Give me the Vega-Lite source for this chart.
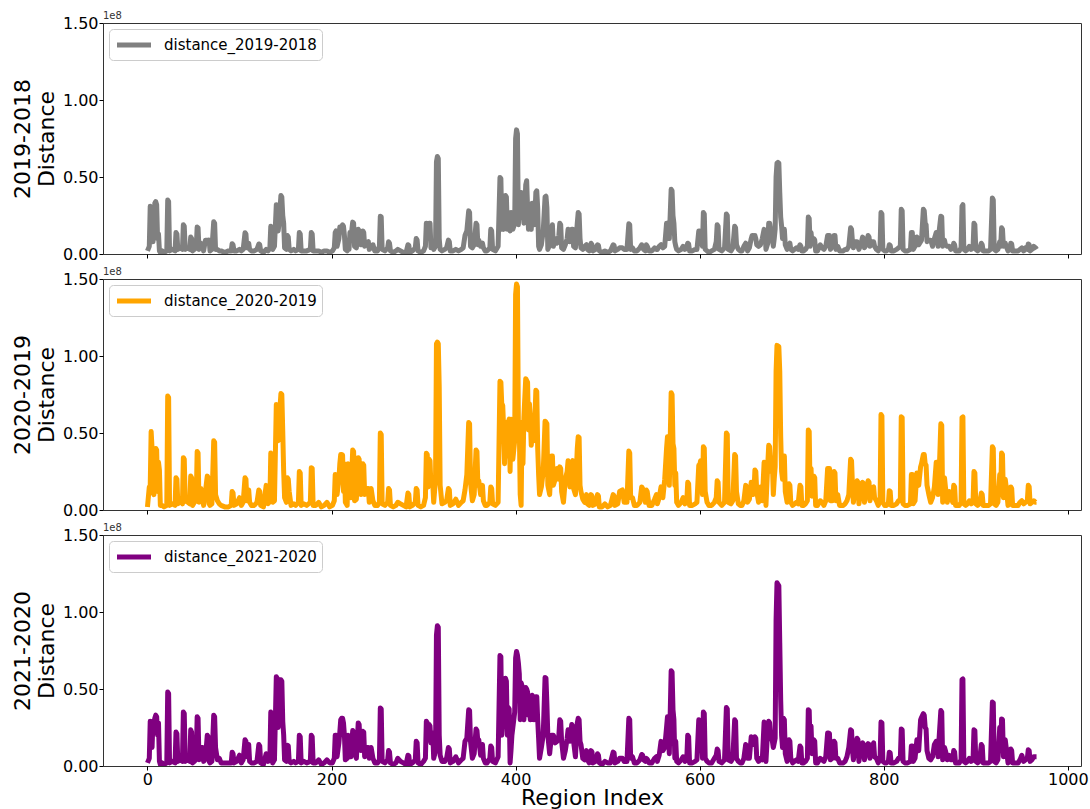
{
"$schema": "https://vega.github.io/schema/vega-lite/v6.json",
"padding": {"left": 10, "top": 10, "right": 5, "bottom": 0},
"background": "white",
"config": {
  "font": "DejaVu Sans",
  "view": {"stroke": "#333", "strokeWidth": 1},
  "axis": {"grid": false, "domain": false, "tickColor": "#000", "tickSize": 4, "labelFontSize": 16, "labelColor": "#000", "titleFontSize": 22, "titleFontWeight": "normal", "titleColor": "#000", "labelPadding": 1},
  "legend": {"orient": "top-left", "offset": 6, "padding": 5, "strokeColor": "#cccccc", "fillColor": "white", "cornerRadius": 4, "symbolType": "M-2,0L2,0", "symbolSize": 289, "symbolOffset": 9, "symbolStrokeWidth": 5, "labelFontSize": 15, "labelColor": "#000", "title": null, "labelOffset": 19, "labelLimit": 0}
},
"data": {"values": [
{"region":0,"a":0.02,"b":0.02,"c":0.02},{"region":2,"a":0.05,"b":0.15,"c":0.05},{"region":3,"a":0.31,"b":0.15,"c":0.29},{"region":4,"a":0.30,"b":0.51,"c":0.27},{"region":5,"a":0.10,"b":0.40,"c":0.12},{"region":6,"a":0.08,"b":0.11,"c":0.29},{"region":7,"a":0.15,"b":0.10,"c":0.28},{"region":8,"a":0.33,"b":0.30,"c":0.31},{"region":9,"a":0.34,"b":0.40,"c":0.33},{"region":10,"a":0.32,"b":0.39,"c":0.32},{"region":11,"a":0.10,"b":0.12,"c":0.20},{"region":12,"a":0.13,"b":0.31,"c":0.28},{"region":13,"a":0.02,"b":0.26,"c":0.03},{"region":14,"a":0.01,"b":0.03,"c":0.01},{"region":16,"a":0.02,"b":0.03,"c":0.02},{"region":18,"a":0.01,"b":0.02,"c":0.01},{"region":21,"a":0.02,"b":0.03,"c":0.02},{"region":22,"a":0.35,"b":0.74,"c":0.48},{"region":23,"a":0.34,"b":0.73,"c":0.47},{"region":24,"a":0.02,"b":0.03,"c":0.02},{"region":27,"a":0.03,"b":0.04,"c":0.03},{"region":30,"a":0.02,"b":0.03,"c":0.02},{"region":31,"a":0.14,"b":0.21,"c":0.22},{"region":32,"a":0.13,"b":0.20,"c":0.21},{"region":33,"a":0.03,"b":0.04,"c":0.03},{"region":36,"a":0.04,"b":0.06,"c":0.04},{"region":38,"a":0.03,"b":0.04,"c":0.03},{"region":39,"a":0.19,"b":0.34,"c":0.35},{"region":40,"a":0.18,"b":0.33,"c":0.34},{"region":41,"a":0.03,"b":0.06,"c":0.03},{"region":44,"a":0.04,"b":0.05,"c":0.04},{"region":46,"a":0.03,"b":0.04,"c":0.03},{"region":47,"a":0.11,"b":0.22,"c":0.235},{"region":48,"a":0.10,"b":0.21,"c":0.22},{"region":49,"a":0.02,"b":0.03,"c":0.02},{"region":51,"a":0.03,"b":0.05,"c":0.03},{"region":53,"a":0.04,"b":0.06,"c":0.05},{"region":54,"a":0.175,"b":0.38,"c":0.32},{"region":55,"a":0.17,"b":0.37,"c":0.31},{"region":56,"a":0.03,"b":0.05,"c":0.04},{"region":58,"a":0.07,"b":0.14,"c":0.12},{"region":60,"a":0.05,"b":0.08,"c":0.12},{"region":61,"a":0.02,"b":0.03,"c":0.03},{"region":63,"a":0.09,"b":0.12,"c":0.05},{"region":65,"a":0.09,"b":0.22,"c":0.20},{"region":66,"a":0.08,"b":0.21,"c":0.19},{"region":67,"a":0.09,"b":0.04,"c":0.03},{"region":68,"a":0.02,"b":0.03,"c":0.02},{"region":70,"a":0.03,"b":0.04,"c":0.03},{"region":72,"a":0.21,"b":0.45,"c":0.33},{"region":73,"a":0.20,"b":0.44,"c":0.32},{"region":74,"a":0.03,"b":0.10,"c":0.12},{"region":76,"a":0.03,"b":0.06,"c":0.04},{"region":78,"a":0.02,"b":0.04,"c":0.05},{"region":80,"a":0.02,"b":0.03,"c":0.02},{"region":84,"a":0.01,"b":0.02,"c":0.02},{"region":88,"a":0.02,"b":0.02,"c":0.02},{"region":91,"a":0.02,"b":0.03,"c":0.02},{"region":92,"a":0.067,"b":0.12,"c":0.09},{"region":93,"a":0.06,"b":0.11,"c":0.08},{"region":94,"a":0.02,"b":0.03,"c":0.02},{"region":97,"a":0.02,"b":0.04,"c":0.03},{"region":100,"a":0.03,"b":0.08,"c":0.07},{"region":102,"a":0.02,"b":0.03,"c":0.02},{"region":104,"a":0.03,"b":0.05,"c":0.04},{"region":106,"a":0.138,"b":0.21,"c":0.17},{"region":107,"a":0.13,"b":0.20,"c":0.16},{"region":108,"a":0.04,"b":0.06,"c":0.06},{"region":110,"a":0.07,"b":0.13,"c":0.14},{"region":111,"a":0.03,"b":0.05,"c":0.03},{"region":113,"a":0.02,"b":0.03,"c":0.02},{"region":116,"a":0.02,"b":0.03,"c":0.02},{"region":119,"a":0.03,"b":0.05,"c":0.03},{"region":121,"a":0.065,"b":0.13,"c":0.14},{"region":122,"a":0.06,"b":0.12,"c":0.13},{"region":123,"a":0.02,"b":0.03,"c":0.02},{"region":126,"a":0.01,"b":0.02,"c":0.01},{"region":129,"a":0.03,"b":0.16,"c":0.08},{"region":131,"a":0.02,"b":0.04,"c":0.03},{"region":133,"a":0.04,"b":0.06,"c":0.05},{"region":134,"a":0.18,"b":0.37,"c":0.35},{"region":135,"a":0.17,"b":0.36,"c":0.34},{"region":136,"a":0.03,"b":0.05,"c":0.02},{"region":138,"a":0.05,"b":0.06,"c":0.04},{"region":140,"a":0.32,"b":0.685,"c":0.58},{"region":141,"a":0.31,"b":0.68,"c":0.57},{"region":142,"a":0.15,"b":0.45,"c":0.25},{"region":143,"a":0.20,"b":0.57,"c":0.56},{"region":145,"a":0.38,"b":0.756,"c":0.56},{"region":146,"a":0.37,"b":0.75,"c":0.55},{"region":147,"a":0.25,"b":0.51,"c":0.29},{"region":148,"a":0.20,"b":0.25,"c":0.20},{"region":149,"a":0.04,"b":0.08,"c":0.04},{"region":151,"a":0.03,"b":0.05,"c":0.03},{"region":152,"a":0.12,"b":0.21,"c":0.135},{"region":153,"a":0.11,"b":0.20,"c":0.13},{"region":154,"a":0.03,"b":0.12,"c":0.03},{"region":156,"a":0.02,"b":0.03,"c":0.02},{"region":159,"a":0.03,"b":0.04,"c":0.03},{"region":161,"a":0.02,"b":0.03,"c":0.02},{"region":164,"a":0.03,"b":0.05,"c":0.03},{"region":165,"a":0.14,"b":0.25,"c":0.20},{"region":166,"a":0.13,"b":0.24,"c":0.19},{"region":167,"a":0.02,"b":0.03,"c":0.02},{"region":170,"a":0.02,"b":0.04,"c":0.03},{"region":173,"a":0.02,"b":0.03,"c":0.02},{"region":177,"a":0.03,"b":0.05,"c":0.03},{"region":178,"a":0.14,"b":0.275,"c":0.20},{"region":179,"a":0.13,"b":0.27,"c":0.19},{"region":180,"a":0.02,"b":0.03,"c":0.02},{"region":183,"a":0.02,"b":0.03,"c":0.02},{"region":186,"a":0.02,"b":0.05,"c":0.04},{"region":189,"a":0.01,"b":0.02,"c":0.01},{"region":192,"a":0.02,"b":0.03,"c":0.02},{"region":195,"a":0.02,"b":0.05,"c":0.04},{"region":198,"a":0.01,"b":0.02,"c":0.02},{"region":201,"a":0.02,"b":0.03,"c":0.02},{"region":203,"a":0.04,"b":0.06,"c":0.05},{"region":204,"a":0.14,"b":0.23,"c":0.20},{"region":205,"a":0.15,"b":0.22,"c":0.20},{"region":206,"a":0.05,"b":0.10,"c":0.06},{"region":208,"a":0.10,"b":0.20,"c":0.15},{"region":209,"a":0.175,"b":0.30,"c":0.22},{"region":210,"a":0.17,"b":0.36,"c":0.30},{"region":211,"a":0.175,"b":0.36,"c":0.31},{"region":212,"a":0.19,"b":0.357,"c":0.31},{"region":213,"a":0.18,"b":0.12,"c":0.28},{"region":214,"a":0.12,"b":0.30,"c":0.20},{"region":215,"a":0.03,"b":0.05,"c":0.04},{"region":217,"a":0.02,"b":0.03,"c":0.05},{"region":218,"a":0.05,"b":0.30,"c":0.20},{"region":219,"a":0.03,"b":0.10,"c":0.06},{"region":220,"a":0.14,"b":0.15,"c":0.15},{"region":221,"a":0.10,"b":0.08,"c":0.06},{"region":223,"a":0.207,"b":0.39,"c":0.23},{"region":224,"a":0.20,"b":0.38,"c":0.22},{"region":225,"a":0.05,"b":0.06,"c":0.08},{"region":227,"a":0.04,"b":0.07,"c":0.05},{"region":229,"a":0.16,"b":0.34,"c":0.28},{"region":230,"a":0.15,"b":0.33,"c":0.27},{"region":231,"a":0.08,"b":0.14,"c":0.14},{"region":232,"a":0.06,"b":0.10,"c":0.10},{"region":234,"a":0.15,"b":0.30,"c":0.225},{"region":235,"a":0.14,"b":0.29,"c":0.22},{"region":236,"a":0.05,"b":0.10,"c":0.06},{"region":238,"a":0.07,"b":0.14,"c":0.12},{"region":240,"a":0.08,"b":0.14,"c":0.12},{"region":241,"a":0.03,"b":0.05,"c":0.05},{"region":243,"a":0.04,"b":0.14,"c":0.12},{"region":245,"a":0.06,"b":0.06,"c":0.05},{"region":247,"a":0.02,"b":0.03,"c":0.02},{"region":250,"a":0.02,"b":0.03,"c":0.02},{"region":252,"a":0.05,"b":0.05,"c":0.04},{"region":253,"a":0.245,"b":0.50,"c":0.376},{"region":254,"a":0.24,"b":0.49,"c":0.37},{"region":255,"a":0.03,"b":0.04,"c":0.03},{"region":258,"a":0.02,"b":0.03,"c":0.02},{"region":261,"a":0.04,"b":0.05,"c":0.04},{"region":262,"a":0.08,"b":0.14,"c":0.10},{"region":263,"a":0.07,"b":0.13,"c":0.09},{"region":264,"a":0.02,"b":0.03,"c":0.02},{"region":267,"a":0.01,"b":0.02,"c":0.01},{"region":270,"a":0.02,"b":0.03,"c":0.02},{"region":272,"a":0.03,"b":0.05,"c":0.05},{"region":275,"a":0.02,"b":0.04,"c":0.03},{"region":278,"a":0.01,"b":0.03,"c":0.02},{"region":281,"a":0.01,"b":0.02,"c":0.01},{"region":283,"a":0.06,"b":0.11,"c":0.07},{"region":284,"a":0.055,"b":0.10,"c":0.065},{"region":285,"a":0.01,"b":0.02,"c":0.01},{"region":288,"a":0.02,"b":0.03,"c":0.02},{"region":291,"a":0.04,"b":0.05,"c":0.04},{"region":292,"a":0.10,"b":0.14,"c":0.16},{"region":293,"a":0.09,"b":0.13,"c":0.15},{"region":294,"a":0.02,"b":0.03,"c":0.02},{"region":297,"a":0.01,"b":0.02,"c":0.01},{"region":300,"a":0.02,"b":0.03,"c":0.03},{"region":302,"a":0.05,"b":0.08,"c":0.05},{"region":303,"a":0.20,"b":0.368,"c":0.29},{"region":304,"a":0.19,"b":0.36,"c":0.28},{"region":305,"a":0.10,"b":0.15,"c":0.20},{"region":306,"a":0.20,"b":0.33,"c":0.27},{"region":307,"a":0.20,"b":0.32,"c":0.26},{"region":308,"a":0.04,"b":0.16,"c":0.15},{"region":310,"a":0.05,"b":0.17,"c":0.215},{"region":311,"a":0.03,"b":0.05,"c":0.05},{"region":313,"a":0.05,"b":0.20,"c":0.10},{"region":314,"a":0.60,"b":1.08,"c":0.85},{"region":315,"a":0.633,"b":1.09,"c":0.91},{"region":316,"a":0.62,"b":1.08,"c":0.90},{"region":317,"a":0.10,"b":0.80,"c":0.20},{"region":318,"a":0.03,"b":0.16,"c":0.07},{"region":320,"a":0.02,"b":0.04,"c":0.03},{"region":323,"a":0.03,"b":0.05,"c":0.03},{"region":325,"a":0.04,"b":0.06,"c":0.05},{"region":327,"a":0.09,"b":0.14,"c":0.12},{"region":328,"a":0.08,"b":0.13,"c":0.11},{"region":329,"a":0.02,"b":0.03,"c":0.02},{"region":332,"a":0.02,"b":0.04,"c":0.03},{"region":335,"a":0.03,"b":0.07,"c":0.06},{"region":338,"a":0.02,"b":0.03,"c":0.02},{"region":341,"a":0.03,"b":0.05,"c":0.04},{"region":343,"a":0.04,"b":0.06,"c":0.05},{"region":345,"a":0.12,"b":0.13,"c":0.16},{"region":347,"a":0.15,"b":0.23,"c":0.18},{"region":349,"a":0.28,"b":0.568,"c":0.365},{"region":350,"a":0.27,"b":0.56,"c":0.36},{"region":351,"a":0.05,"b":0.18,"c":0.16},{"region":353,"a":0.04,"b":0.06,"c":0.05},{"region":355,"a":0.06,"b":0.10,"c":0.08},{"region":357,"a":0.20,"b":0.39,"c":0.24},{"region":358,"a":0.19,"b":0.38,"c":0.23},{"region":359,"a":0.06,"b":0.16,"c":0.16},{"region":360,"a":0.09,"b":0.19,"c":0.17},{"region":362,"a":0.05,"b":0.10,"c":0.07},{"region":364,"a":0.07,"b":0.16,"c":0.14},{"region":365,"a":0.04,"b":0.06,"c":0.05},{"region":367,"a":0.02,"b":0.03,"c":0.02},{"region":369,"a":0.02,"b":0.03,"c":0.02},{"region":372,"a":0.04,"b":0.05,"c":0.05},{"region":373,"a":0.16,"b":0.15,"c":0.13},{"region":374,"a":0.15,"b":0.14,"c":0.12},{"region":375,"a":0.03,"b":0.04,"c":0.03},{"region":378,"a":0.02,"b":0.03,"c":0.02},{"region":381,"a":0.05,"b":0.05,"c":0.06},{"region":383,"a":0.497,"b":0.836,"c":0.717},{"region":384,"a":0.49,"b":0.83,"c":0.71},{"region":385,"a":0.16,"b":0.68,"c":0.20},{"region":386,"a":0.20,"b":0.68,"c":0.30},{"region":387,"a":0.16,"b":0.53,"c":0.46},{"region":388,"a":0.25,"b":0.30,"c":0.40},{"region":389,"a":0.38,"b":0.57,"c":0.57},{"region":390,"a":0.37,"b":0.56,"c":0.55},{"region":391,"a":0.16,"b":0.35,"c":0.20},{"region":392,"a":0.27,"b":0.57,"c":0.38},{"region":393,"a":0.26,"b":0.59,"c":0.37},{"region":394,"a":0.15,"b":0.25,"c":0.02},{"region":395,"a":0.27,"b":0.59,"c":0.10},{"region":396,"a":0.26,"b":0.58,"c":0.20},{"region":397,"a":0.16,"b":0.33,"c":0.25},{"region":399,"a":0.20,"b":0.45,"c":0.35},{"region":400,"a":0.75,"b":1.40,"c":0.70},{"region":401,"a":0.806,"b":1.468,"c":0.744},{"region":402,"a":0.78,"b":1.45,"c":0.72},{"region":403,"a":0.19,"b":0.57,"c":0.67},{"region":404,"a":0.30,"b":0.55,"c":0.60},{"region":405,"a":0.26,"b":0.10,"c":0.30},{"region":406,"a":0.40,"b":0.03,"c":0.54},{"region":407,"a":0.39,"b":0.57,"c":0.52},{"region":408,"a":0.32,"b":0.30,"c":0.33},{"region":409,"a":0.20,"b":0.60,"c":0.30},{"region":410,"a":0.30,"b":0.73,"c":0.40},{"region":411,"a":0.45,"b":0.853,"c":0.51},{"region":412,"a":0.476,"b":0.84,"c":0.50},{"region":413,"a":0.30,"b":0.83,"c":0.48},{"region":414,"a":0.16,"b":0.52,"c":0.33},{"region":415,"a":0.25,"b":0.69,"c":0.40},{"region":416,"a":0.20,"b":0.60,"c":0.30},{"region":417,"a":0.16,"b":0.42,"c":0.43},{"region":418,"a":0.33,"b":0.50,"c":0.46},{"region":419,"a":0.32,"b":0.60,"c":0.45},{"region":420,"a":0.19,"b":0.45,"c":0.30},{"region":421,"a":0.25,"b":0.60,"c":0.44},{"region":422,"a":0.40,"b":0.778,"c":0.45},{"region":423,"a":0.41,"b":0.77,"c":0.45},{"region":424,"a":0.30,"b":0.40,"c":0.30},{"region":425,"a":0.05,"b":0.23,"c":0.18},{"region":426,"a":0.03,"b":0.10,"c":0.05},{"region":428,"a":0.06,"b":0.15,"c":0.12},{"region":430,"a":0.15,"b":0.25,"c":0.20},{"region":432,"a":0.37,"b":0.577,"c":0.575},{"region":433,"a":0.375,"b":0.57,"c":0.57},{"region":434,"a":0.30,"b":0.56,"c":0.40},{"region":435,"a":0.03,"b":0.16,"c":0.20},{"region":437,"a":0.06,"b":0.10,"c":0.08},{"region":439,"a":0.15,"b":0.35,"c":0.20},{"region":440,"a":0.19,"b":0.35,"c":0.20},{"region":441,"a":0.05,"b":0.16,"c":0.20},{"region":443,"a":0.10,"b":0.20,"c":0.15},{"region":445,"a":0.07,"b":0.27,"c":0.16},{"region":447,"a":0.12,"b":0.20,"c":0.20},{"region":448,"a":0.20,"b":0.28,"c":0.30},{"region":449,"a":0.19,"b":0.27,"c":0.29},{"region":450,"a":0.04,"b":0.12,"c":0.16},{"region":452,"a":0.03,"b":0.05,"c":0.05},{"region":454,"a":0.06,"b":0.20,"c":0.10},{"region":456,"a":0.10,"b":0.25,"c":0.18},{"region":457,"a":0.16,"b":0.32,"c":0.235},{"region":458,"a":0.15,"b":0.31,"c":0.23},{"region":459,"a":0.08,"b":0.15,"c":0.16},{"region":461,"a":0.16,"b":0.31,"c":0.27},{"region":462,"a":0.16,"b":0.32,"c":0.26},{"region":463,"a":0.05,"b":0.14,"c":0.16},{"region":465,"a":0.04,"b":0.10,"c":0.06},{"region":467,"a":0.20,"b":0.40,"c":0.28},{"region":468,"a":0.27,"b":0.476,"c":0.31},{"region":469,"a":0.26,"b":0.47,"c":0.30},{"region":470,"a":0.10,"b":0.16,"c":0.16},{"region":471,"a":0.04,"b":0.12,"c":0.14},{"region":473,"a":0.03,"b":0.07,"c":0.05},{"region":475,"a":0.05,"b":0.05,"c":0.04},{"region":477,"a":0.06,"b":0.10,"c":0.10},{"region":478,"a":0.03,"b":0.04,"c":0.04},{"region":480,"a":0.02,"b":0.03,"c":0.02},{"region":482,"a":0.07,"b":0.10,"c":0.10},{"region":483,"a":0.06,"b":0.09,"c":0.09},{"region":484,"a":0.02,"b":0.03,"c":0.02},{"region":487,"a":0.03,"b":0.04,"c":0.03},{"region":489,"a":0.06,"b":0.10,"c":0.08},{"region":490,"a":0.055,"b":0.09,"c":0.07},{"region":491,"a":0.02,"b":0.02,"c":0.02},{"region":494,"a":0.01,"b":0.02,"c":0.01},{"region":497,"a":0.02,"b":0.04,"c":0.03},{"region":500,"a":0.01,"b":0.02,"c":0.02},{"region":503,"a":0.02,"b":0.03,"c":0.02},{"region":506,"a":0.06,"b":0.10,"c":0.09},{"region":507,"a":0.055,"b":0.09,"c":0.085},{"region":508,"a":0.02,"b":0.03,"c":0.02},{"region":511,"a":0.03,"b":0.04,"c":0.03},{"region":513,"a":0.04,"b":0.12,"c":0.05},{"region":516,"a":0.04,"b":0.13,"c":0.05},{"region":518,"a":0.03,"b":0.05,"c":0.03},{"region":521,"a":0.03,"b":0.05,"c":0.03},{"region":523,"a":0.196,"b":0.383,"c":0.31},{"region":524,"a":0.19,"b":0.37,"c":0.30},{"region":525,"a":0.03,"b":0.08,"c":0.05},{"region":527,"a":0.04,"b":0.08,"c":0.06},{"region":529,"a":0.02,"b":0.03,"c":0.02},{"region":532,"a":0.02,"b":0.03,"c":0.02},{"region":535,"a":0.04,"b":0.05,"c":0.04},{"region":537,"a":0.06,"b":0.15,"c":0.075},{"region":538,"a":0.05,"b":0.14,"c":0.07},{"region":539,"a":0.03,"b":0.10,"c":0.04},{"region":541,"a":0.02,"b":0.05,"c":0.03},{"region":542,"a":0.06,"b":0.13,"c":0.05},{"region":543,"a":0.05,"b":0.12,"c":0.045},{"region":545,"a":0.02,"b":0.03,"c":0.02},{"region":548,"a":0.02,"b":0.03,"c":0.02},{"region":551,"a":0.04,"b":0.07,"c":0.05},{"region":553,"a":0.03,"b":0.10,"c":0.06},{"region":554,"a":0.03,"b":0.04,"c":0.03},{"region":556,"a":0.05,"b":0.08,"c":0.07},{"region":558,"a":0.06,"b":0.15,"c":0.16},{"region":560,"a":0.04,"b":0.08,"c":0.10},{"region":562,"a":0.05,"b":0.20,"c":0.12},{"region":564,"a":0.20,"b":0.40,"c":0.25},{"region":565,"a":0.20,"b":0.476,"c":0.32},{"region":566,"a":0.15,"b":0.30,"c":0.20},{"region":567,"a":0.10,"b":0.16,"c":0.08},{"region":569,"a":0.42,"b":0.762,"c":0.618},{"region":570,"a":0.41,"b":0.75,"c":0.61},{"region":571,"a":0.25,"b":0.43,"c":0.365},{"region":572,"a":0.20,"b":0.40,"c":0.30},{"region":573,"a":0.08,"b":0.16,"c":0.05},{"region":574,"a":0.05,"b":0.24,"c":0.16},{"region":575,"a":0.03,"b":0.05,"c":0.03},{"region":577,"a":0.02,"b":0.03,"c":0.02},{"region":580,"a":0.03,"b":0.05,"c":0.04},{"region":582,"a":0.05,"b":0.08,"c":0.06},{"region":584,"a":0.03,"b":0.04,"c":0.03},{"region":586,"a":0.05,"b":0.06,"c":0.05},{"region":587,"a":0.07,"b":0.18,"c":0.20},{"region":588,"a":0.065,"b":0.17,"c":0.19},{"region":589,"a":0.02,"b":0.03,"c":0.02},{"region":592,"a":0.02,"b":0.03,"c":0.02},{"region":595,"a":0.03,"b":0.04,"c":0.03},{"region":597,"a":0.03,"b":0.05,"c":0.04},{"region":599,"a":0.15,"b":0.29,"c":0.30},{"region":600,"a":0.15,"b":0.29,"c":0.29},{"region":601,"a":0.10,"b":0.32,"c":0.25},{"region":602,"a":0.10,"b":0.32,"c":0.25},{"region":603,"a":0.05,"b":0.10,"c":0.05},{"region":604,"a":0.27,"b":0.41,"c":0.35},{"region":605,"a":0.26,"b":0.40,"c":0.34},{"region":606,"a":0.03,"b":0.12,"c":0.05},{"region":608,"a":0.02,"b":0.05,"c":0.03},{"region":610,"a":0.01,"b":0.03,"c":0.02},{"region":613,"a":0.02,"b":0.03,"c":0.02},{"region":616,"a":0.03,"b":0.05,"c":0.05},{"region":618,"a":0.08,"b":0.08,"c":0.07},{"region":619,"a":0.19,"b":0.19,"c":0.11},{"region":620,"a":0.18,"b":0.18,"c":0.10},{"region":621,"a":0.03,"b":0.05,"c":0.03},{"region":624,"a":0.02,"b":0.03,"c":0.02},{"region":627,"a":0.04,"b":0.05,"c":0.04},{"region":629,"a":0.26,"b":0.50,"c":0.38},{"region":630,"a":0.25,"b":0.49,"c":0.37},{"region":631,"a":0.03,"b":0.05,"c":0.04},{"region":634,"a":0.02,"b":0.04,"c":0.03},{"region":636,"a":0.04,"b":0.06,"c":0.05},{"region":638,"a":0.18,"b":0.36,"c":0.30},{"region":639,"a":0.17,"b":0.35,"c":0.29},{"region":640,"a":0.06,"b":0.12,"c":0.05},{"region":642,"a":0.03,"b":0.04,"c":0.03},{"region":644,"a":0.02,"b":0.03,"c":0.02},{"region":646,"a":0.02,"b":0.03,"c":0.02},{"region":648,"a":0.05,"b":0.06,"c":0.05},{"region":650,"a":0.07,"b":0.16,"c":0.14},{"region":651,"a":0.06,"b":0.15,"c":0.13},{"region":652,"a":0.02,"b":0.05,"c":0.05},{"region":654,"a":0.04,"b":0.07,"c":0.05},{"region":656,"a":0.10,"b":0.18,"c":0.19},{"region":657,"a":0.12,"b":0.14,"c":0.14},{"region":658,"a":0.12,"b":0.10,"c":0.15},{"region":659,"a":0.11,"b":0.12,"c":0.14},{"region":660,"a":0.12,"b":0.26,"c":0.19},{"region":661,"a":0.10,"b":0.25,"c":0.18},{"region":662,"a":0.06,"b":0.12,"c":0.05},{"region":664,"a":0.05,"b":0.05,"c":0.03},{"region":666,"a":0.06,"b":0.15,"c":0.05},{"region":668,"a":0.10,"b":0.06,"c":0.04},{"region":670,"a":0.16,"b":0.31,"c":0.285},{"region":671,"a":0.15,"b":0.30,"c":0.28},{"region":672,"a":0.03,"b":0.03,"c":0.03},{"region":674,"a":0.07,"b":0.30,"c":0.25},{"region":675,"a":0.20,"b":0.42,"c":0.29},{"region":676,"a":0.20,"b":0.41,"c":0.28},{"region":677,"a":0.16,"b":0.32,"c":0.20},{"region":678,"a":0.12,"b":0.25,"c":0.18},{"region":679,"a":0.10,"b":0.30,"c":0.16},{"region":680,"a":0.05,"b":0.10,"c":0.12},{"region":681,"a":0.10,"b":0.20,"c":0.15},{"region":682,"a":0.16,"b":0.28,"c":0.18},{"region":683,"a":0.50,"b":0.90,"c":0.95},{"region":684,"a":0.59,"b":1.069,"c":1.19},{"region":685,"a":0.595,"b":1.065,"c":1.18},{"region":686,"a":0.59,"b":1.06,"c":1.17},{"region":687,"a":0.40,"b":0.90,"c":0.80},{"region":688,"a":0.24,"b":0.48,"c":0.43},{"region":689,"a":0.18,"b":0.25,"c":0.20},{"region":690,"a":0.10,"b":0.20,"c":0.12},{"region":691,"a":0.16,"b":0.35,"c":0.31},{"region":692,"a":0.16,"b":0.35,"c":0.30},{"region":693,"a":0.06,"b":0.12,"c":0.08},{"region":695,"a":0.03,"b":0.05,"c":0.03},{"region":697,"a":0.06,"b":0.17,"c":0.17},{"region":698,"a":0.07,"b":0.16,"c":0.16},{"region":699,"a":0.03,"b":0.05,"c":0.05},{"region":701,"a":0.02,"b":0.03,"c":0.02},{"region":703,"a":0.03,"b":0.04,"c":0.03},{"region":705,"a":0.04,"b":0.05,"c":0.04},{"region":707,"a":0.03,"b":0.04,"c":0.03},{"region":709,"a":0.06,"b":0.16,"c":0.13},{"region":710,"a":0.05,"b":0.15,"c":0.12},{"region":711,"a":0.02,"b":0.03,"c":0.02},{"region":713,"a":0.02,"b":0.03,"c":0.02},{"region":715,"a":0.03,"b":0.04,"c":0.03},{"region":717,"a":0.05,"b":0.06,"c":0.05},{"region":718,"a":0.24,"b":0.52,"c":0.365},{"region":719,"a":0.23,"b":0.51,"c":0.36},{"region":720,"a":0.05,"b":0.10,"c":0.10},{"region":721,"a":0.14,"b":0.27,"c":0.26},{"region":722,"a":0.08,"b":0.09,"c":0.08},{"region":724,"a":0.10,"b":0.22,"c":0.17},{"region":725,"a":0.09,"b":0.21,"c":0.16},{"region":726,"a":0.02,"b":0.03,"c":0.02},{"region":728,"a":0.02,"b":0.03,"c":0.02},{"region":731,"a":0.06,"b":0.06,"c":0.05},{"region":733,"a":0.04,"b":0.05,"c":0.04},{"region":735,"a":0.03,"b":0.03,"c":0.03},{"region":737,"a":0.05,"b":0.06,"c":0.06},{"region":739,"a":0.12,"b":0.27,"c":0.215},{"region":740,"a":0.12,"b":0.27,"c":0.215},{"region":741,"a":0.12,"b":0.27,"c":0.21},{"region":742,"a":0.03,"b":0.06,"c":0.04},{"region":744,"a":0.05,"b":0.06,"c":0.05},{"region":746,"a":0.12,"b":0.25,"c":0.16},{"region":747,"a":0.12,"b":0.24,"c":0.15},{"region":748,"a":0.03,"b":0.06,"c":0.05},{"region":750,"a":0.05,"b":0.10,"c":0.05},{"region":752,"a":0.02,"b":0.03,"c":0.02},{"region":754,"a":0.02,"b":0.03,"c":0.02},{"region":756,"a":0.02,"b":0.03,"c":0.02},{"region":758,"a":0.03,"b":0.04,"c":0.03},{"region":760,"a":0.03,"b":0.06,"c":0.06},{"region":762,"a":0.05,"b":0.10,"c":0.12},{"region":764,"a":0.17,"b":0.33,"c":0.235},{"region":765,"a":0.16,"b":0.32,"c":0.23},{"region":766,"a":0.08,"b":0.16,"c":0.10},{"region":767,"a":0.04,"b":0.05,"c":0.04},{"region":769,"a":0.08,"b":0.14,"c":0.12},{"region":771,"a":0.08,"b":0.19,"c":0.18},{"region":772,"a":0.05,"b":0.18,"c":0.17},{"region":773,"a":0.03,"b":0.04,"c":0.03},{"region":775,"a":0.06,"b":0.14,"c":0.12},{"region":777,"a":0.11,"b":0.18,"c":0.15},{"region":778,"a":0.10,"b":0.17,"c":0.14},{"region":779,"a":0.04,"b":0.05,"c":0.04},{"region":781,"a":0.06,"b":0.14,"c":0.12},{"region":783,"a":0.12,"b":0.19,"c":0.145},{"region":784,"a":0.11,"b":0.18,"c":0.14},{"region":785,"a":0.05,"b":0.06,"c":0.05},{"region":787,"a":0.08,"b":0.14,"c":0.12},{"region":789,"a":0.08,"b":0.15,"c":0.15},{"region":790,"a":0.05,"b":0.08,"c":0.06},{"region":792,"a":0.03,"b":0.06,"c":0.05},{"region":794,"a":0.02,"b":0.03,"c":0.02},{"region":796,"a":0.05,"b":0.06,"c":0.05},{"region":797,"a":0.27,"b":0.62,"c":0.285},{"region":798,"a":0.26,"b":0.61,"c":0.28},{"region":799,"a":0.03,"b":0.05,"c":0.03},{"region":801,"a":0.02,"b":0.03,"c":0.02},{"region":803,"a":0.02,"b":0.03,"c":0.02},{"region":805,"a":0.03,"b":0.04,"c":0.03},{"region":806,"a":0.06,"b":0.125,"c":0.09},{"region":807,"a":0.055,"b":0.12,"c":0.085},{"region":808,"a":0.02,"b":0.03,"c":0.02},{"region":811,"a":0.02,"b":0.03,"c":0.02},{"region":814,"a":0.03,"b":0.04,"c":0.03},{"region":816,"a":0.04,"b":0.06,"c":0.05},{"region":818,"a":0.05,"b":0.06,"c":0.05},{"region":819,"a":0.29,"b":0.605,"c":0.24},{"region":820,"a":0.28,"b":0.60,"c":0.235},{"region":821,"a":0.03,"b":0.04,"c":0.03},{"region":823,"a":0.02,"b":0.03,"c":0.02},{"region":826,"a":0.02,"b":0.03,"c":0.02},{"region":829,"a":0.03,"b":0.04,"c":0.03},{"region":830,"a":0.14,"b":0.23,"c":0.13},{"region":831,"a":0.14,"b":0.23,"c":0.13},{"region":832,"a":0.03,"b":0.04,"c":0.03},{"region":834,"a":0.05,"b":0.06,"c":0.05},{"region":836,"a":0.11,"b":0.24,"c":0.17},{"region":837,"a":0.08,"b":0.20,"c":0.12},{"region":838,"a":0.06,"b":0.16,"c":0.10},{"region":840,"a":0.08,"b":0.28,"c":0.30},{"region":841,"a":0.09,"b":0.30,"c":0.315},{"region":843,"a":0.29,"b":0.36,"c":0.34},{"region":844,"a":0.28,"b":0.36,"c":0.33},{"region":845,"a":0.20,"b":0.30,"c":0.25},{"region":846,"a":0.19,"b":0.29,"c":0.24},{"region":847,"a":0.08,"b":0.16,"c":0.10},{"region":849,"a":0.09,"b":0.10,"c":0.05},{"region":851,"a":0.09,"b":0.05,"c":0.04},{"region":853,"a":0.05,"b":0.08,"c":0.06},{"region":855,"a":0.10,"b":0.15,"c":0.14},{"region":857,"a":0.14,"b":0.31,"c":0.16},{"region":858,"a":0.13,"b":0.31,"c":0.16},{"region":859,"a":0.05,"b":0.10,"c":0.06},{"region":860,"a":0.14,"b":0.20,"c":0.17},{"region":862,"a":0.245,"b":0.56,"c":0.36},{"region":863,"a":0.24,"b":0.55,"c":0.35},{"region":864,"a":0.05,"b":0.05,"c":0.04},{"region":866,"a":0.09,"b":0.21,"c":0.12},{"region":867,"a":0.06,"b":0.15,"c":0.10},{"region":869,"a":0.05,"b":0.05,"c":0.04},{"region":871,"a":0.05,"b":0.12,"c":0.07},{"region":873,"a":0.03,"b":0.08,"c":0.04},{"region":875,"a":0.04,"b":0.05,"c":0.04},{"region":876,"a":0.07,"b":0.16,"c":0.10},{"region":877,"a":0.06,"b":0.15,"c":0.09},{"region":878,"a":0.02,"b":0.03,"c":0.02},{"region":880,"a":0.02,"b":0.03,"c":0.02},{"region":882,"a":0.02,"b":0.03,"c":0.02},{"region":884,"a":0.04,"b":0.05,"c":0.04},{"region":885,"a":0.31,"b":0.60,"c":0.56},{"region":886,"a":0.32,"b":0.605,"c":0.565},{"region":887,"a":0.03,"b":0.04,"c":0.03},{"region":889,"a":0.02,"b":0.03,"c":0.02},{"region":891,"a":0.03,"b":0.04,"c":0.03},{"region":893,"a":0.05,"b":0.06,"c":0.05},{"region":895,"a":0.03,"b":0.04,"c":0.03},{"region":897,"a":0.04,"b":0.05,"c":0.04},{"region":898,"a":0.20,"b":0.25,"c":0.235},{"region":899,"a":0.19,"b":0.24,"c":0.23},{"region":900,"a":0.03,"b":0.04,"c":0.03},{"region":902,"a":0.02,"b":0.03,"c":0.02},{"region":904,"a":0.03,"b":0.04,"c":0.03},{"region":906,"a":0.07,"b":0.11,"c":0.14},{"region":907,"a":0.06,"b":0.10,"c":0.13},{"region":908,"a":0.02,"b":0.03,"c":0.02},{"region":910,"a":0.02,"b":0.03,"c":0.02},{"region":912,"a":0.02,"b":0.03,"c":0.02},{"region":914,"a":0.02,"b":0.03,"c":0.02},{"region":916,"a":0.03,"b":0.04,"c":0.03},{"region":918,"a":0.364,"b":0.411,"c":0.415},{"region":919,"a":0.35,"b":0.40,"c":0.41},{"region":920,"a":0.03,"b":0.04,"c":0.03},{"region":922,"a":0.02,"b":0.03,"c":0.02},{"region":924,"a":0.03,"b":0.05,"c":0.04},{"region":926,"a":0.08,"b":0.23,"c":0.25},{"region":927,"a":0.05,"b":0.10,"c":0.10},{"region":928,"a":0.17,"b":0.37,"c":0.306},{"region":929,"a":0.16,"b":0.36,"c":0.30},{"region":930,"a":0.05,"b":0.08,"c":0.06},{"region":932,"a":0.07,"b":0.20,"c":0.17},{"region":933,"a":0.05,"b":0.15,"c":0.12},{"region":935,"a":0.02,"b":0.03,"c":0.02},{"region":937,"a":0.03,"b":0.04,"c":0.03},{"region":938,"a":0.07,"b":0.15,"c":0.11},{"region":939,"a":0.065,"b":0.14,"c":0.10},{"region":940,"a":0.02,"b":0.03,"c":0.02},{"region":942,"a":0.02,"b":0.03,"c":0.02},{"region":944,"a":0.02,"b":0.03,"c":0.02},{"region":946,"a":0.02,"b":0.03,"c":0.02},{"region":948,"a":0.03,"b":0.05,"c":0.04},{"region":950,"a":0.04,"b":0.06,"c":0.07},{"region":952,"a":0.02,"b":0.04,"c":0.03},{"region":954,"a":0.04,"b":0.05,"c":0.04},{"region":956,"a":0.03,"b":0.06,"c":0.05},{"region":957,"a":0.065,"b":0.16,"c":0.105},{"region":958,"a":0.06,"b":0.15,"c":0.10},{"region":959,"a":0.02,"b":0.04,"c":0.03},{"region":961,"a":0.03,"b":0.05,"c":0.04},{"region":963,"a":0.05,"b":0.06,"c":0.06},{"region":965,"a":0.04,"b":0.05,"c":0.06},{"region":966,"a":0.03,"b":0.05,"c":0.06}
]},
"spacing": 25,
"bounds": "flush",
"resolve": {"scale": {"color": "independent"}, "legend": {"color": "independent"}},
"vconcat": [
  {"width": 978, "height": 231, "layer": [
    {"mark": {"type": "line", "strokeWidth": 5, "strokeJoin": "round", "clip": true},
     "encoding": {
       "x": {"field": "region", "type": "quantitative", "scale": {"domain": [-48.3, 1014.3], "nice": false, "zero": false}, "axis": {"values": [0,200,400,600,800,1000], "labels": false, "title": null}},
       "y": {"field": "a", "type": "quantitative", "scale": {"domain": [0, 1.5], "nice": false}, "axis": {"values": [0,0.25,0.5,0.75,1,1.25,1.5], "format": ".2f", "title": ["2019-2018", "Distance"], "titlePadding": 4}},
       "color": {"datum": "distance_2019-2018", "type": "nominal", "scale": {"range": ["#808080"]}}
     }},
    {"data": {"values": [{"t": "1e8"}]}, "mark": {"type": "text", "align": "left", "baseline": "bottom", "dy": -2, "fontSize": 10, "color": "#333"},
     "encoding": {"x": {"datum": -48.3}, "y": {"datum": 1.5}, "text": {"field": "t"}}}
  ]},
  {"width": 978, "height": 231, "layer": [
    {"mark": {"type": "line", "strokeWidth": 5, "strokeJoin": "round", "clip": true},
     "encoding": {
       "x": {"field": "region", "type": "quantitative", "scale": {"domain": [-48.3, 1014.3], "nice": false, "zero": false}, "axis": {"values": [0,200,400,600,800,1000], "labels": false, "title": null}},
       "y": {"field": "b", "type": "quantitative", "scale": {"domain": [0, 1.5], "nice": false}, "axis": {"values": [0,0.25,0.5,0.75,1,1.25,1.5], "format": ".2f", "title": ["2020-2019", "Distance"], "titlePadding": 4}},
       "color": {"datum": "distance_2020-2019", "type": "nominal", "scale": {"range": ["#FFA500"]}}
     }},
    {"data": {"values": [{"t": "1e8"}]}, "mark": {"type": "text", "align": "left", "baseline": "bottom", "dy": -2, "fontSize": 10, "color": "#333"},
     "encoding": {"x": {"datum": -48.3}, "y": {"datum": 1.5}, "text": {"field": "t"}}}
  ]},
  {"width": 978, "height": 231, "layer": [
    {"mark": {"type": "line", "strokeWidth": 5, "strokeJoin": "round", "clip": true},
     "encoding": {
       "x": {"field": "region", "type": "quantitative", "scale": {"domain": [-48.3, 1014.3], "nice": false, "zero": false}, "axis": {"values": [0,200,400,600,800,1000], "format": "d", "title": "Region Index", "titlePadding": 0}},
       "y": {"field": "c", "type": "quantitative", "scale": {"domain": [0, 1.5], "nice": false}, "axis": {"values": [0,0.25,0.5,0.75,1,1.25,1.5], "format": ".2f", "title": ["2021-2020", "Distance"], "titlePadding": 4}},
       "color": {"datum": "distance_2021-2020", "type": "nominal", "scale": {"range": ["#800080"]}}
     }},
    {"data": {"values": [{"t": "1e8"}]}, "mark": {"type": "text", "align": "left", "baseline": "bottom", "dy": -2, "fontSize": 10, "color": "#333"},
     "encoding": {"x": {"datum": -48.3}, "y": {"datum": 1.5}, "text": {"field": "t"}}}
  ]}
]
}
